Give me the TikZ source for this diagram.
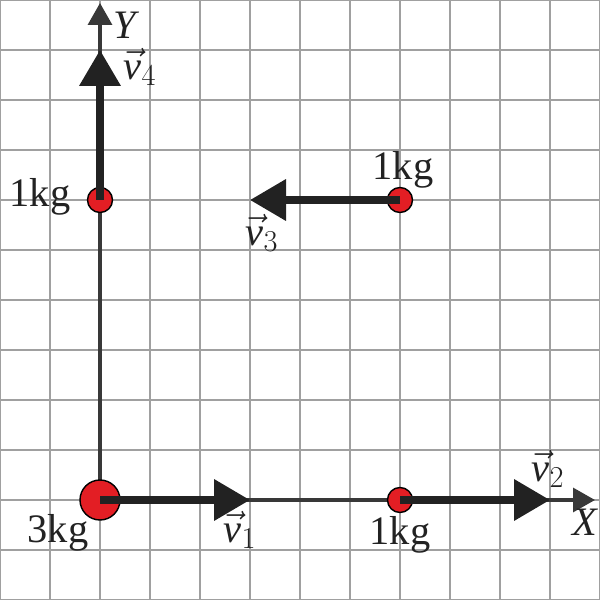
\documentclass[tikz,border=0pt]{standalone}
\usepackage{fontspec}
\setmainfont{Liberation Serif}
\usepackage{amsmath}
\usetikzlibrary{arrows.meta}
\definecolor{massred}{HTML}{E31E24}
\definecolor{inkgray}{HTML}{222222}
\definecolor{gridgray}{HTML}{A0A0A0}
\newcommand{\velname}[1]{$\vec{\mbox{\itshape v}}_{#1}$}

\begin{document}
\begin{tikzpicture}[scale=1,
    mass/.style={circle,draw=black,line width=0.8pt,fill=massred,inner sep=0pt},
    axis/.style={draw=inkgray!90,line width=1.9pt,-{Triangle[length=0.44cm,width=0.48cm]}},
    vel/.style={draw=inkgray,line width=4pt,-{Triangle[length=0.72cm,width=0.8cm]}},
    lbl/.style={text=inkgray,font=\fontsize{23}{27}\selectfont,inner sep=1pt}]
    \useasboundingbox (0,0) rectangle (12,12);
    \draw[gridgray,line width=1.1pt] (0,0) grid (12,12);

            % axes
            \coordinate (o) at (2,2);
            \coordinate (xend) at (11.9,2);
            \coordinate (yend) at (2,11.94);
            \draw[axis] (o) -- (xend);
            \draw[axis] (o) -- (yend);

            % masses
            \node (m1) at (2,2) [mass,minimum size=0.8cm] {};
            \node (m2) at (8,2) [mass,minimum size=0.5cm] {};
            \node (m3) at (8,8) [mass,minimum size=0.5cm] {};
            \node (m4) at (2,8) [mass,minimum size=0.5cm] {};

            % velocities
            \coordinate (v1end) at (5,2);
            \coordinate (v2end) at (11,2);
            \coordinate (v3end) at (5,8);
            \coordinate (v4end) at (2,11);
            \draw[vel] (m1.center) -- (v1end);
            \draw[vel] (m2.center) -- (v2end);
            \draw[vel] (m3.center) -- (v3end);
            \draw[vel] (m4.center) -- (v4end);

            % labels
            \node (l1) at (1.16,1.34) [lbl] {3kg};
            \node (l2) at (8.0,1.3) [lbl] {1kg};
            \node (l3) at (8.06,8.6) [lbl] {1kg};
            \node (l4) at (0.8,8.06) [lbl] {1kg};
            \node (lv1) at (4.8,1.4) [lbl] {\velname{1}};
            \node (lv2) at (10.96,2.62) [lbl] {\velname{2}};
            \node (lv3) at (5.24,7.34) [lbl] {\velname{3}};
            \node (lv4) at (2.8,10.66) [lbl] {\velname{4}};
            \node (ly) at (2.5,11.5) [lbl] {\itshape Y};
            \node (lx) at (11.7,1.56) [lbl] {\itshape X};

        \end{tikzpicture}
\end{document}
